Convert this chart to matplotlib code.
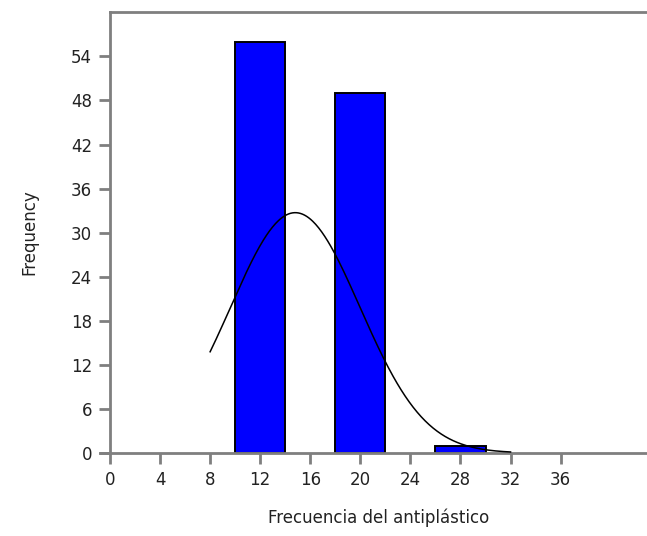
import numpy as np
import matplotlib
matplotlib.use("Agg")
import matplotlib.pyplot as plt

# Histogram bins (left edges, width) and counts
bin_lefts = [10, 18, 26]
bin_width = 4
counts = [56, 49, 1]

# Fitted normal curve parameters
fit_mean = 14.8
fit_sd = 5.17
fit_n = 106
fit_range = (8, 32)

x_ticks = list(range(0, 37, 4))
y_ticks = list(range(0, 55, 6))

fig = plt.figure(figsize=(6.47, 5.36), dpi=100)
ax = fig.add_axes([0.170, 0.155, 0.830, 0.822])

ax.bar(bin_lefts, counts, width=bin_width, align="edge",
       color="#0000FF", edgecolor="black", linewidth=1.4, zorder=2)

xs = np.linspace(fit_range[0], fit_range[1], 300)
ys = fit_n * bin_width / (fit_sd * np.sqrt(2 * np.pi)) * np.exp(-0.5 * ((xs - fit_mean) / fit_sd) ** 2)
ax.plot(xs, ys, color="black", linewidth=1.1, zorder=3)

ax.set_xlim(0, 42.9)
ax.set_ylim(0, 60)
ax.set_xticks(x_ticks)
ax.set_yticks(y_ticks)

grey = "#7f7f7f"
for side in ["left", "top", "bottom"]:
    ax.spines[side].set_color(grey)
    ax.spines[side].set_linewidth(2)
ax.spines["right"].set_visible(False)
ax.spines["bottom"].set_bounds(-0.8, 42.9)
ax.tick_params(axis="both", colors=grey, width=2, length=8, labelsize=12,
               labelcolor="#222222", pad=5)

ax.set_xlabel("Frecuencia del antiplástico", fontsize=12, color="#222222", labelpad=14)
ax.set_ylabel("Frequency", fontsize=12, color="#222222", labelpad=23)

fig.savefig("out.png", dpi=100)
